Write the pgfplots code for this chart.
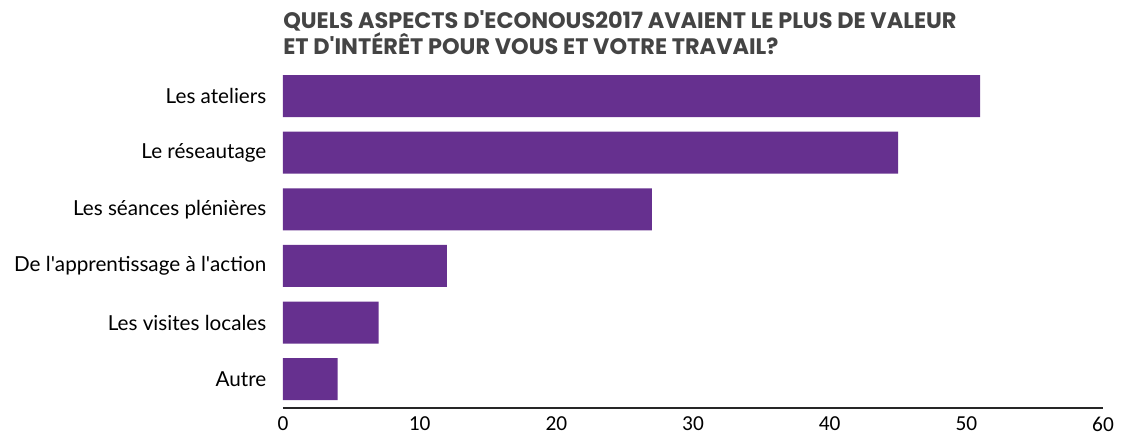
\documentclass[border=0pt]{standalone}
\usepackage{pgfplots}
\pgfplotsset{compat=1.18}
\usepackage{fontspec}
\setmainfont{Lato}
\newfontfamily\tickfont{Carlito}
\newfontfamily\titlefont{Poppins}
\definecolor{barpurple}{RGB}{102,48,143}
\definecolor{titlegray}{RGB}{68,68,68}

\begin{document}
\begin{tikzpicture}[x=0.75pt,y=0.75pt]
  \useasboundingbox (-283,-33) rectangle (841,408);
  \begin{axis}[
    at={(0,0)}, anchor=south west,
    scale only axis,
    width=615pt, height=255.2pt,
    xbar, bar width=31.5pt,
    xmin=0, xmax=60,
    ymin=-0.51, ymax=5.5,
    axis x line*=bottom,
    axis y line*=left,
    x axis line style={line width=1.6pt, draw=black!85},
    y axis line style={draw=none},
    xtick={0,10,...,60},
    ytick={0,...,5},
    yticklabels={Autre, Les visites locales, De l\textquotesingle apprentissage à l\textquotesingle action, Les séances plénières, Le réseautage, Les ateliers},
    major tick length=0pt,
    xticklabel style={font=\tickfont\fontsize{16}{16}\selectfont, yshift=-3pt},
    yticklabel style={font=\fontsize{15.5}{15.5}\selectfont, xshift=-9pt},
    /pgf/number format/assume math mode=true,
    clip=false,
  ]
  \addplot[fill=barpurple, draw=none] coordinates {
    (4,0) (7,1) (12,2) (27,3) (45,4) (51,5)};
  \end{axis}
  \node[anchor=north west, inner sep=0pt, text=titlegray, font=\titlefont\bfseries\fontsize{16.8}{17.6}\selectfont, align=left] at (0,398) {QUELS ASPECTS D\textquotesingle ECONOUS2017 AVAIENT LE PLUS DE VALEUR\\ET D\textquotesingle INTÉRÊT POUR VOUS ET VOTRE TRAVAIL?};
\end{tikzpicture}
\end{document}
